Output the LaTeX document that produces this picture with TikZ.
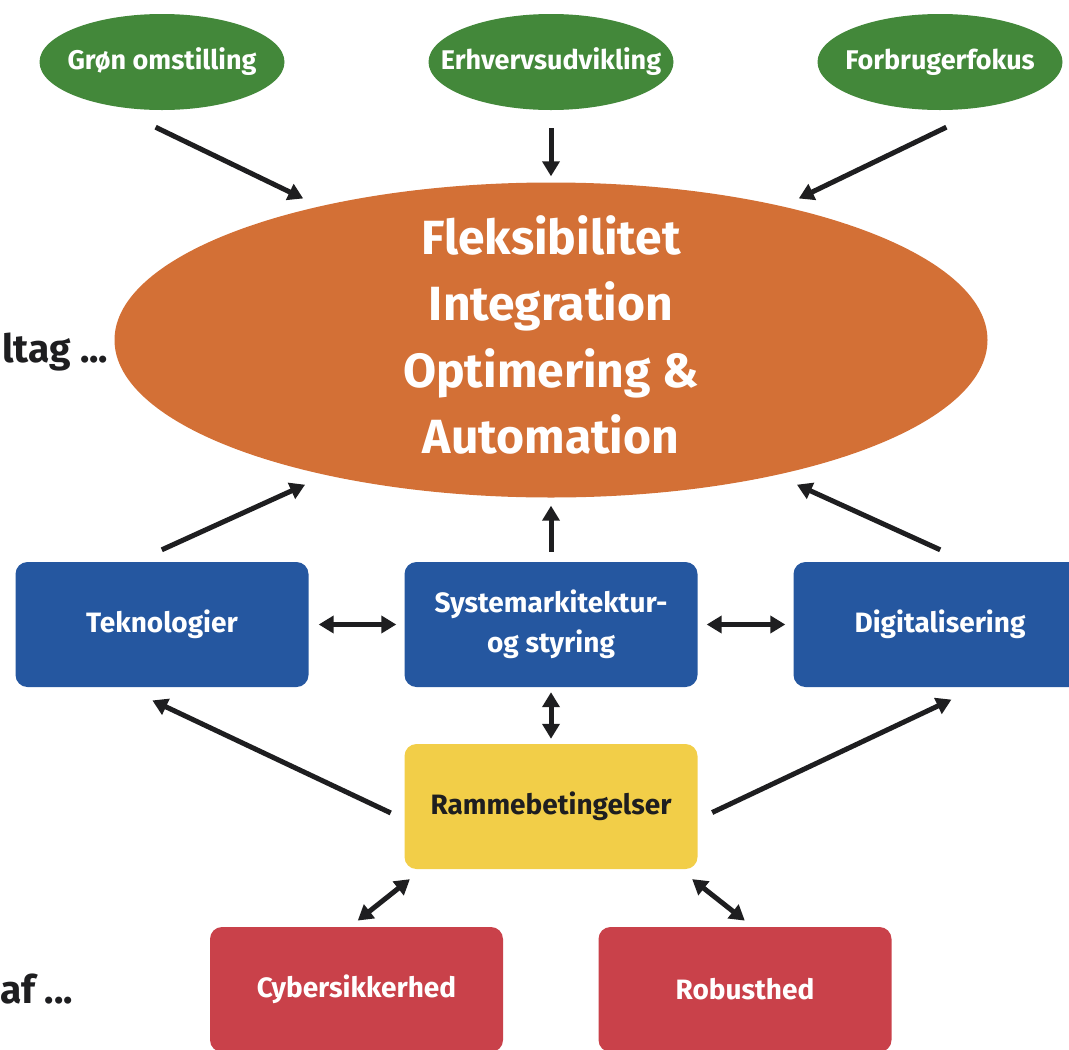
\documentclass[tikz,border=0pt]{standalone}
\usepackage{fontspec}
\setmainfont{Fira Sans}
\usetikzlibrary{arrows.meta,shapes.geometric}
\definecolor{goalgreen}{HTML}{43883A}
\definecolor{huborange}{HTML}{D37036}
\definecolor{areablue}{HTML}{2557A0}
\definecolor{condyellow}{HTML}{F2CE48}
\definecolor{riskred}{HTML}{C9414A}
\definecolor{inkblack}{HTML}{1E1E20}

\begin{document}
\begin{tikzpicture}[x=1pt,y=-1pt]
        \tikzset{goal/.style = {shape=ellipse,fill=goalgreen,text=white,inner sep=0pt,minimum width=245pt,minimum height=96pt,font=\fontsize{27}{32}\selectfont\bfseries}}
        \tikzset{hub/.style = {shape=ellipse,fill=huborange,text=white,inner sep=0pt,minimum width=873pt,minimum height=315pt,font=\fontsize{48}{66.5}\selectfont\bfseries}}
        \tikzset{area/.style = {shape=rectangle,rounded corners=12pt,fill=areablue,text=white,minimum width=293pt,minimum height=125pt,align=center,font=\fontsize{28}{40}\selectfont\bfseries}}
        \tikzset{cond/.style = {area,fill=condyellow,text=inkblack}}
        \tikzset{risk/.style = {area,fill=riskred}}
        \tikzset{side/.style = {anchor=base west,inner sep=0pt,text=inkblack,font=\fontsize{39}{44}\selectfont\bfseries}}
        \tikzset{edge/.style = {->,>={Triangle[length=15pt,width=17pt]},line width=5pt,draw=inkblack}}
        \tikzset{both/.style = {edge,<->}}
        \clip (0,0) rectangle (1069,1050);
        % goals
        \node[goal] (gron) at (162,62) {\makebox[0pt]{Grøn omstilling}};
        \node[goal] (erhv) at (551,62) {\makebox[0pt]{Erhvervsudvikling}};
        \node[goal] (forb) at (940,62) {\makebox[0pt]{Forbrugerfokus}};
        % core
        \node[hub] (core) at (551,340) {\smash{\makebox[0pt]{\raisebox{-7pt}{\begin{tabular}{@{}c@{}}Fleksibilitet\\Integration\\Optimering \&\\Automation\end{tabular}}}}};
        % areas
        \node[area] (tek) at (162,624.5) {Teknologier};
        \node[area] (syst) at (551,624.5) {Systemarkitektur-\\og styring};
        \node[area] (digi) at (940,624.5) {Digitalisering};
        \node[cond] (ramme) at (551,806.5) {Rammebetingelser};
        \node[risk] (cyber) at (356.5,989.5) {Cybersikkerhed};
        \node[risk] (robust) at (745,989.5) {Robusthed};
        % side labels
        \node[side] (tiltag) at (2,362) {ltag ...};
        \node[side] (af) at (0,1003) {af ...};
        %edges
        \draw[edge,shorten <=49pt,shorten >=18pt] (gron.-139) -- (core.150);
        \draw[edge,shorten <=18pt,shorten >=6pt] (erhv.south) -- (core.north);
        \draw[edge,shorten <=49pt,shorten >=18pt] (forb.-41) -- (core.30);
        \draw[edge,shorten <=29pt,shorten >=23pt] (tek.113) -- (core.211);
        \draw[edge,shorten <=10pt,shorten >=8pt] (syst.north) -- (core.south);
        \draw[edge,shorten <=29pt,shorten >=23pt] (digi.67) -- (core.-31);
        \draw[both,shorten <=10pt,shorten >=8pt] (tek.east) -- (syst.west);
        \draw[both,shorten <=9pt,shorten >=8pt] (syst.east) -- (digi.west);
        \draw[both,shorten <=5pt,shorten >=5pt] (syst.south) -- (ramme.north);
        \draw[edge,shorten <=15pt,shorten >=31pt] (ramme.185) -- (tek.239);
        \draw[edge,shorten <=16pt,shorten >=29pt] (ramme.-5) -- (digi.-59);
        \draw[both,shorten <=16pt,shorten >=10pt] (ramme.206) -- (cyber.96);
        \draw[both,shorten <=16pt,shorten >=10pt] (ramme.-26) -- (robust.83);
\end{tikzpicture}
\end{document}
